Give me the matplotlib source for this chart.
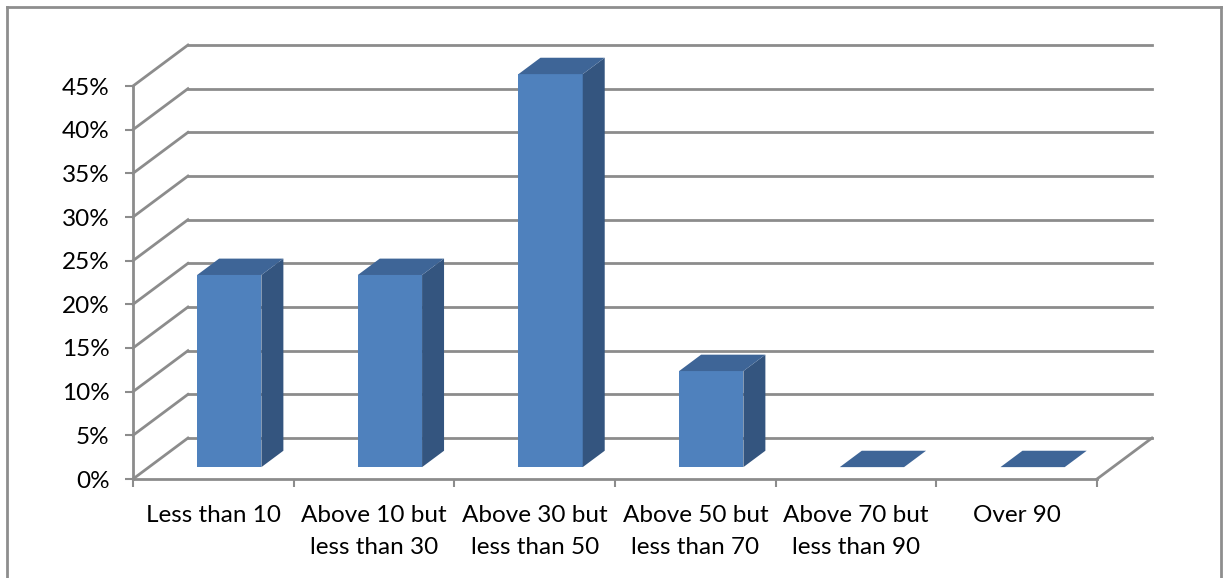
import matplotlib
matplotlib.use('Agg')
import matplotlib.pyplot as plt
from matplotlib.patches import Polygon
from matplotlib.lines import Line2D
from matplotlib.ticker import MultipleLocator, FuncFormatter

plt.rcParams['font.family'] = ['Lato', 'DejaVu Sans']

categories = ['Less than 10', 'Above 10 but\nless than 30', 'Above 30 but\nless than 50',
              'Above 50 but\nless than 70', 'Above 70 but\nless than 90', 'Over 90']
shares = [22, 22, 45, 11, 0, 0]

# oblique depth of the 3d box, in data units
DX = 0.342
DY = 4.69
Z0, Z1 = 0.29, 0.69
HALF = 0.2

grid_col = '#8c8c8c'
front_col = '#4f81bd'
side_col = '#34557f'
top_col = '#3e6597'

W, H = 1223, 578
fig = plt.figure(figsize=(W / 100, H / 100), dpi=100)
ax = fig.add_axes([133 / W, (H - 479) / H, (1097 - 133) / W, (479 - 86) / H])
ax.set_xlim(0, len(categories))
ax.set_ylim(0, 45)

def off(x, y, z):
    return (x + z * DX, y + z * DY)

# walls: back gridlines + left side diagonals
for v in range(0, 50, 5):
    ax.plot([DX, len(categories) + DX], [v + DY, v + DY], color=grid_col, lw=2, clip_on=False, zorder=1)
    ax.plot([0, DX], [v, v + DY], color=grid_col, lw=2, clip_on=False, zorder=1)
# right edge of the floor
ax.plot([len(categories), len(categories) + DX], [0, DY], color=grid_col, lw=2, clip_on=False, zorder=1)

for i, v in enumerate(shares):
    x0, x1 = i + 0.5 - HALF, i + 0.5 + HALF
    front = [off(x0, 0, Z0), off(x1, 0, Z0), off(x1, v, Z0), off(x0, v, Z0)]
    side = [off(x1, 0, Z0), off(x1, 0, Z1), off(x1, v, Z1), off(x1, v, Z0)]
    top = [off(x0, v, Z0), off(x1, v, Z0), off(x1, v, Z1), off(x0, v, Z1)]
    if v > 0:
        ax.add_patch(Polygon(front, closed=True, fc=front_col, ec='none', clip_on=False, zorder=3))
        ax.add_patch(Polygon(side, closed=True, fc=side_col, ec='none', clip_on=False, zorder=3))
    ax.add_patch(Polygon(top, closed=True, fc=top_col, ec='none', clip_on=False, zorder=3))

for s in ['top', 'right']:
    ax.spines[s].set_visible(False)
for s in ['left', 'bottom']:
    ax.spines[s].set_color(grid_col)
    ax.spines[s].set_linewidth(2)

ax.yaxis.set_major_locator(MultipleLocator(5))
ax.yaxis.set_major_formatter(FuncFormatter(lambda v, p: f'{v:.0f}%'))
ax.set_xticks(range(len(categories) + 1))
ax.set_xticklabels([])
ax.set_xticks([i + 0.5 for i in range(len(categories))], minor=True)
ax.set_xticklabels(categories, minor=True, linespacing=1.65)
ax.tick_params(axis='both', which='major', direction='out', length=6, width=1.5,
               color=grid_col, labelsize=17.5, labelcolor='black')
ax.tick_params(axis='y', pad=11)
ax.tick_params(axis='x', which='minor', length=0, pad=19, labelsize=17.5)
ax.set_facecolor('none')

# chart frame
for xs, ys in [([7, 7], [0, 7]), ([7, 1221], [7, 7]), ([1221, 1221], [7, H])]:
    ys = [H - ys[0], H - ys[1]] if xs[0] != xs[1] else [0, H - 7]
    fig.add_artist(Line2D([x / W for x in xs], [y / H for y in ys], color='#8e8e8e', lw=2))

fig.savefig('out.png', dpi=100)
